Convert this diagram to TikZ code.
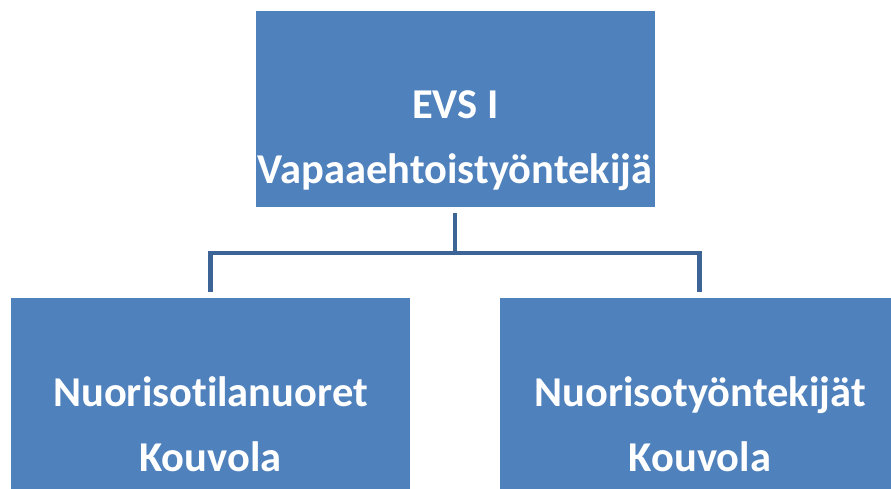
\documentclass[tikz,border=0pt]{standalone}
\usepackage{fontspec}
\setmainfont[Ligatures=NoCommon]{Carlito}
\definecolor{boxblue}{HTML}{4F81BD}
\definecolor{lineblue}{HTML}{3D6496}
\begin{document}
\begin{tikzpicture}[x=1pt,y=-1pt,
  orgbox/.style={draw=none,fill=boxblue,minimum width=399pt,minimum height=196pt,inner sep=0pt,outer sep=0pt},
  lbl/.style={anchor=base,text=white,font=\fontsize{42.5}{44}\selectfont\bfseries,inner sep=0pt},
  conn/.style={draw=lineblue,line width=4.6pt,shorten <=6pt,shorten >=6pt}]
\useasboundingbox (0,0) rectangle (891,489);
\node[orgbox] (top) at (455,109) {};
\node[orgbox] (left) at (210.5,396) {};
\node[orgbox] (right) at (699.5,396) {};
\node[lbl] (t1) at (455.5,118.5) {EVS I};
\node[lbl] (t2) at (455,184) {Vapaaehtoistyöntekijä};
\node[lbl] (l1) at (210.5,406.7) {Nuorisotilanuoret};
\node[lbl] (l2) at (210.5,471.7) {Kouvola};
\node[lbl] (r1) at (700,406.7) {Nuorisotyöntekijät};
\node[lbl] (r2) at (700,471.7) {Kouvola};
\draw[conn] (top.south) -- ++(0,46) -| (left.north);
\draw[conn] (top.south) -- ++(0,46) -| (right.north);
\end{tikzpicture}
\end{document}
